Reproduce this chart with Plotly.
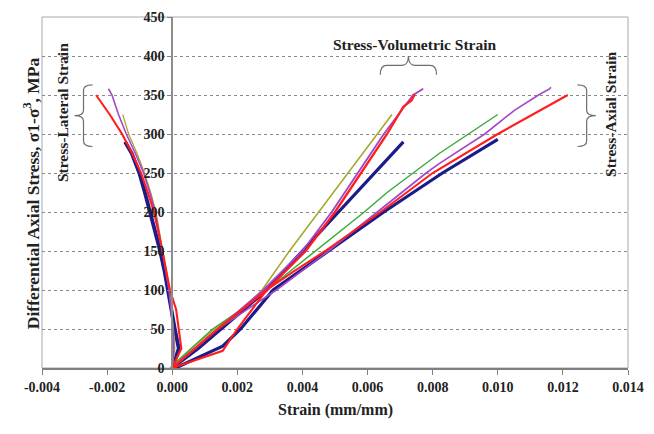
import plotly.graph_objects as go

# ---------------- data ----------------
# Sample 1 (navy)
navy_lat_s = [0, 25, 50, 75, 100, 125, 150, 175, 200, 225, 250, 275, 290]
navy_lat_e = [0, 0.0002, 0.00008, -0.00003, -0.00012, -0.00024, -0.00037, -0.00052, -0.00068,
              -0.00084, -0.00101, -0.00124, -0.00145]
navy_vol_s = [0, 25, 50, 75, 100, 150, 200, 250, 290]
navy_vol_e = [0, 0.0008, 0.0015, 0.0022, 0.0029, 0.0040, 0.0051, 0.0062, 0.0071]
navy_ax_s = [0, 28, 50, 75, 100, 150, 200, 250, 293]
navy_ax_e = [0.0001, 0.00155, 0.0021, 0.0026, 0.0031, 0.0048, 0.0065, 0.0083, 0.0100]

# Sample 2 (red)
red_lat_s = [0, 25, 50, 75, 100, 125, 150, 175, 200, 225, 250, 275, 300, 325, 350]
red_lat_e = [0, 0.00028, 0.0002, 0.00012, -0.00007, -0.00018, -0.0003, -0.00043, -0.00056,
             -0.00075, -0.00096, -0.00123, -0.00154, -0.00192, -0.00234]
red_vol_s = [0, 50, 100, 150, 200, 250, 300, 335, 343, 351]
red_vol_e = [0, 0.0014, 0.0029, 0.0041, 0.0050, 0.0058, 0.0066, 0.0071, 0.00735, 0.00745]
red_ax_s = [0, 22, 50, 100, 123, 150, 200, 250, 300, 350]
red_ax_e = [0, 0.00155, 0.0020, 0.0029, 0.0037, 0.0047, 0.0064, 0.0080, 0.0100, 0.01215]

# Sample 3 (purple)
pur_lat_s = [0, 25, 50, 75, 100, 125, 150, 175, 200, 225, 250, 275, 300, 325, 350, 358]
pur_lat_e = [0, 0.00005, 0.00002, -0.00004, -0.0001, -0.0002, -0.0003, -0.0004, -0.00052,
             -0.00069, -0.00088, -0.00113, -0.00141, -0.00165, -0.00185, -0.00196]
pur_vol_s = [0, 50, 100, 150, 200, 250, 300, 350, 358]
pur_vol_e = [0, 0.0014, 0.0028, 0.0040, 0.0049, 0.0057, 0.0065, 0.0074, 0.00771]
pur_ax_s = [0, 50, 100, 150, 200, 250, 262, 300, 330, 338, 345, 350, 358, 360]
pur_ax_e = [0, 0.0014, 0.0032, 0.0048, 0.0063, 0.0078, 0.0082, 0.0096, 0.0105, 0.0108, 0.0111,
            0.01125, 0.0116, 0.01163]

# Sample 4 (green axial, olive volumetric / lateral)
olv_lat_s = [0, 25, 50, 75, 100, 125, 150, 175, 200, 225, 250, 275, 300, 325]
olv_lat_e = [0, 0.00008, 0.00004, -0.00002, -0.00008, -0.00018, -0.00028, -0.00038, -0.0005,
             -0.00066, -0.00085, -0.00108, -0.00134, -0.00152]
olv_vol_s = [0, 25, 50, 80, 100, 150, 200, 250, 300, 325]
olv_vol_e = [0, 0.0006, 0.0013, 0.0023, 0.00276, 0.0036, 0.0045, 0.0054, 0.0063, 0.00675]
grn_ax_s = [0, 3, 50, 80, 100, 150, 200, 225, 250, 275, 300, 325]
grn_ax_e = [0, 0.0, 0.00124, 0.0023, 0.0029, 0.0044, 0.0059, 0.0066, 0.0074, 0.0082, 0.0091, 0.0100]

x_ticks = [-0.004, -0.002, 0.000, 0.002, 0.004, 0.006, 0.008, 0.010, 0.012, 0.014]
y_ticks = [0, 50, 100, 150, 200, 250, 300, 350, 400, 450]

NAVY = "#1B1B8A"
RED = "#FF1E1E"
PURPLE = "#A347C8"
GREEN = "#3CAA3C"
OLIVE = "#A5A52A"
GRID = "#8A8A8A"
FONT = "Liberation Serif"

fig = go.Figure()


def add(x, y, color, width):
    fig.add_trace(go.Scatter(
        x=x, y=y, mode="lines",
        line=dict(color=color, width=width),
        hoverinfo="skip", showlegend=False))


# navy first (underneath)
add(navy_lat_e, navy_lat_s, NAVY, 3.8)
add(navy_vol_e, navy_vol_s, NAVY, 3.2)
add(navy_ax_e, navy_ax_s, NAVY, 3.2)
# olive / green
add(olv_lat_e, olv_lat_s, OLIVE, 1.2)
add(olv_vol_e, olv_vol_s, OLIVE, 1.5)
add(grn_ax_e, grn_ax_s, GREEN, 1.5)
# purple
add(pur_lat_e, pur_lat_s, PURPLE, 1.6)
add(pur_vol_e, pur_vol_s, PURPLE, 1.9)
add(pur_ax_e, pur_ax_s, PURPLE, 1.6)
# red
add(red_lat_e, red_lat_s, RED, 2.1)
add(red_vol_e, red_vol_s, RED, 2.3)
add(red_ax_e, red_ax_s, RED, 2.1)

xmin, xmax = -0.004, 0.014
ymin, ymax = 0, 450

TICKF = dict(family=FONT, size=14, color="#222", weight="bold")
fig.update_layout(
    width=654, height=434,
    margin=dict(l=42, r=18, t=10, b=66),
    paper_bgcolor="white", plot_bgcolor="white",
    showlegend=False,
    xaxis=dict(
        range=[xmin, xmax], tickvals=x_ticks,
        ticktext=[f"{v:.3f}" for v in x_ticks],
        showgrid=False, zeroline=False,
        showline=True, linecolor="#7F7F7F", linewidth=1.5,
        ticks="outside", ticklen=5, tickcolor="#7F7F7F", tickwidth=1,
        tickfont=TICKF, fixedrange=True,
    ),
    yaxis=dict(
        range=[ymin, ymax], tickvals=y_ticks,
        anchor="free", position=(0 - xmin) / (xmax - xmin),
        showgrid=True, gridcolor=GRID, griddash="dot", gridwidth=1,
        zeroline=False,
        showline=True, linecolor="#8C8C8C", linewidth=2,
        ticks="outside", ticklen=4, tickcolor="#7F7F7F", tickwidth=1,
        tickfont=TICKF, fixedrange=True,
    ),
)

# plot-area frame
fig.add_shape(type="rect", xref="paper", yref="paper", x0=0, x1=1, y0=0, y1=1,
              line=dict(color="#A8A8A8", width=1), layer="between")


def vbrace(xa, xt, y0, y1, r):
    xs = (xa + xt) / 2
    ym = (y0 + y1) / 2
    return (f"M {xa},{y1} Q {xs},{y1} {xs},{y1 - r} L {xs},{ym + r} "
            f"Q {xs},{ym} {xt},{ym} Q {xs},{ym} {xs},{ym - r} "
            f"L {xs},{y0 + r} Q {xs},{y0} {xa},{y0}")


def hbrace(x0, x1, ya, yt, r):
    ys = (ya + yt) / 2
    xm = (x0 + x1) / 2
    return (f"M {x0},{ya} Q {x0},{ys} {x0 + r},{ys} L {xm - r},{ys} "
            f"Q {xm},{ys} {xm},{yt} Q {xm},{ys} {xm + r},{ys} "
            f"L {x1 - r},{ys} Q {x1},{ys} {x1},{ya}")


BR = dict(color="#6E6E6E", width=1.2)
fig.add_shape(type="path", xref="x", yref="y",
              path=vbrace(-0.00245, -0.0030, 284, 363, 7), line=BR)
fig.add_shape(type="path", xref="x", yref="y",
              path=vbrace(0.01245, 0.01301, 284, 363, 7), line=BR)
fig.add_shape(type="path", xref="x", yref="y",
              path=hbrace(0.00639, 0.00812, 376, 400, 0.0002), line=BR)

LBL = dict(family=FONT, size=15.5, color="#222", weight="bold")
fig.add_annotation(x=-0.00339, y=328, xref="x", yref="y", text="Stress-Lateral Strain",
                   textangle=-90, showarrow=False, font=LBL)
fig.add_annotation(x=0.01346, y=325, xref="x", yref="y", text="Stress-Axial Strain",
                   textangle=-90, showarrow=False, font=LBL)
fig.add_annotation(x=0.00745, y=415, xref="x", yref="y", text="Stress-Volumetric Strain",
                   showarrow=False, font=LBL)

fig.add_annotation(x=-0.0404, y=0.499, xref="paper", yref="paper",
                   text="Differential Axial Stress, σ1-σ<sup>3</sup>, MPa",
                   textangle=-90, showarrow=False,
                   font=dict(family=FONT, size=17.5, color="#222", weight="bold"))
fig.add_annotation(x=0.5, y=-0.152, xref="paper", yref="paper",
                   text="Strain (mm/mm)", showarrow=False,
                   font=dict(family=FONT, size=16, color="#222", weight="bold"))

fig.write_html("out.html")
